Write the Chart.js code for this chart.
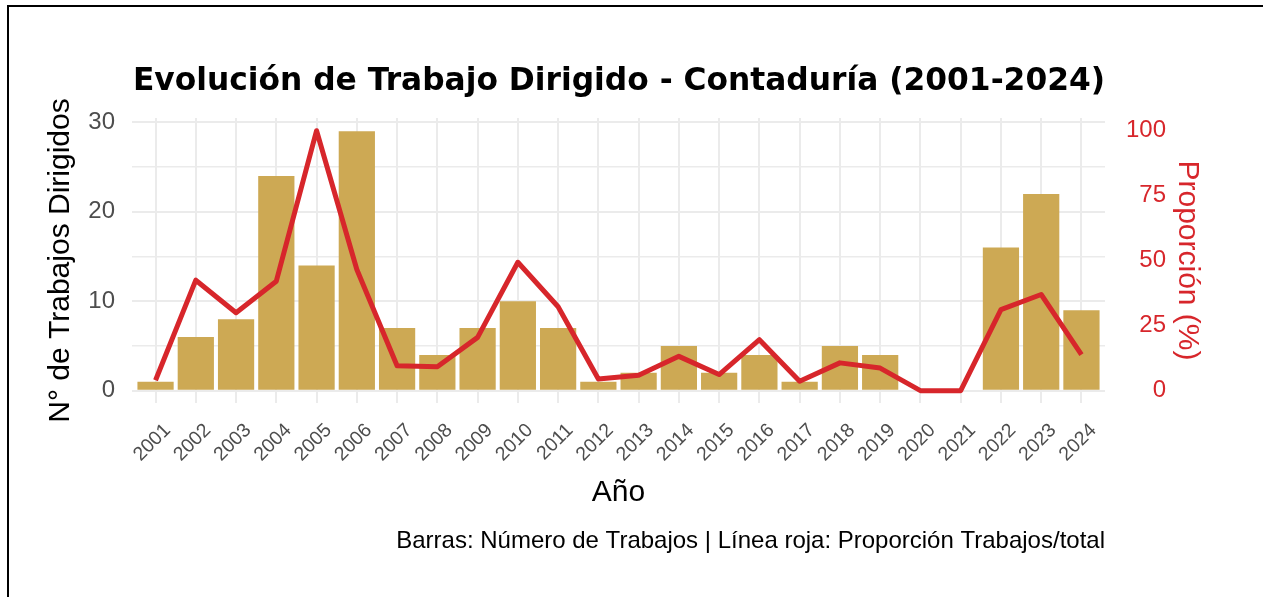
<!DOCTYPE html>
<html>
<head>
<meta charset="utf-8">
<script src="https://cdn.jsdelivr.net/npm/chart.js@4.4.1/dist/chart.umd.min.js"></script>
<style>
  html, body { margin: 0; padding: 0; background: #fff; }
  #wrap { position: relative; width: 1263px; height: 597px; overflow: hidden; }
  #chart { position: absolute; left: 0; top: 0; }
  #frame { position: absolute; left: 7px; top: 5px; width: 1300px; height: 640px;
           border-top: 2px solid #000; border-left: 2px solid #000; }
</style>
</head>
<body>
<div id="wrap">
  <canvas id="chart" width="1263" height="597"></canvas>
  <div id="frame"></div>
</div>
<script>
// datos
const years = [2001, 2002, 2003, 2004, 2005, 2006, 2007, 2008, 2009, 2010, 2011, 2012,
               2013, 2014, 2015, 2016, 2017, 2018, 2019, 2020, 2021, 2022, 2023, 2024];
const trabajos = [1, 6, 8, 24, 14, 29, 7, 4, 7, 10, 7, 1,
                  2, 5, 2, 4, 1, 5, 4, 0, 0, 16, 22, 9];
const proporcion = [4, 42.5, 30, 42.1, 100, 46.6, 9.6, 9.2, 20.5, 49.4, 32.3, 4.5,
                     5.9, 13.2, 6.2, 19.6, 3.6, 10.7, 8.7, 0, 0, 31.2, 37, 13.9];
const leftTicks = [0, 10, 20, 30];
const rightTicks = [0, 25, 50, 75, 100];

const titulo = 'Evolución de Trabajo Dirigido - Contaduría (2001-2024)';
const caption = 'Barras: Número de Trabajos | Línea roja: Proporción Trabajos/total';

const FONT = '"Liberation Sans", Arial, sans-serif';
const RED = '#D7262B';
const GOLD = '#CDA954';
const GRID = '#EBEBEB';
const TICK_GREY = '#4D4D4D';

const captionPlugin = {
    id: 'caption',
    afterDraw(chart) {
        const { ctx, chartArea } = chart;
        ctx.save();
        ctx.font = '24px ' + FONT;
        ctx.fillStyle = '#000';
        ctx.textAlign = 'right';
        ctx.textBaseline = 'middle';
        ctx.fillText(caption, chartArea.right, 541);
        ctx.restore();
    }
};

const ctx = document.getElementById('chart').getContext('2d');
new Chart(ctx, {
    data: {
        labels: years,
        datasets: [
            {
                type: 'line',
                label: 'Proporción',
                data: proporcion,
                yAxisID: 'y2',
                borderColor: RED,
                borderWidth: 5,
                borderJoinStyle: 'round',
                borderCapStyle: 'butt',
                pointRadius: 0,
                tension: 0,
                fill: false,
                order: 0,
            },
            {
                type: 'bar',
                label: 'Trabajos',
                data: trabajos,
                yAxisID: 'y',
                backgroundColor: GOLD,
                borderWidth: 0,
                barPercentage: 0.9,
                categoryPercentage: 1,
                order: 1,
            }
        ]
    },
    options: {
        responsive: false,
        animation: false,
        layout: { padding: { left: 0, right: 25, top: 0, bottom: 74 } },
        plugins: {
            legend: { display: false },
            tooltip: { enabled: false },
            title: {
                display: true,
                text: titulo,
                color: '#000',
                font: { family: '"DejaVu Sans", sans-serif', size: 31.3, weight: 'bold' },
                padding: { top: 63.2, bottom: 17.2 },
            }
        },
        scales: {
            x: {
                type: 'linear',
                position: 'bottom',
                offset: false,
                min: 2000.415,
                max: 2024.585,
                afterFit: (scale) => { scale.height = 120; },
                grid: { color: GRID, lineWidth: 2, drawTicks: false, offset: false },
                border: { display: false },
                ticks: {
                    stepSize: 1,
                    includeBounds: false,
                    autoSkip: false,
                    minRotation: 45,
                    maxRotation: 45,
                    padding: 16,
                    labelOffset: 12,
                    color: TICK_GREY,
                    font: { family: FONT, size: 19.5 },
                    callback: (v) => years.includes(v) ? String(v) : '',
                },
                title: {
                    display: true,
                    text: 'Año',
                    color: '#000',
                    font: { family: FONT, size: 30 },
                    padding: { top: 0, bottom: 12 },
                }
            },
            y: {
                type: 'linear',
                position: 'left',
                min: -1.375,
                max: 30.49,
                afterFit: (scale) => { scale.width = 132; },
                grid: {
                    color: GRID,
                    drawTicks: false,
                    lineWidth: (c) => (c.tick && leftTicks.includes(c.tick.value)) ? 2 : 1.4,
                },
                border: { display: false },
                ticks: {
                    stepSize: 5,
                    includeBounds: false,
                    padding: 17,
                    color: TICK_GREY,
                    font: { family: FONT, size: 24 },
                    callback: (v) => leftTicks.includes(v) ? String(v) : '',
                },
                title: {
                    display: true,
                    text: 'N° de Trabajos Dirigidos',
                    color: '#000',
                    font: { family: FONT, size: 30 },
                    padding: { top: 43, bottom: 0 },
                }
            },
            y2: {
                type: 'linear',
                position: 'right',
                weight: 0,
                min: -4.74,
                max: 104.9,
                afterFit: (scale) => { scale.width = 61; },
                grid: { display: false, drawTicks: false },
                border: { display: false },
                ticks: {
                    stepSize: 25,
                    includeBounds: false,
                    padding: 17,
                    crossAlign: 'far',
                    color: RED,
                    font: { family: FONT, size: 24 },
                    callback: (v) => rightTicks.includes(v) ? String(v) : '',
                }
            },
            y3: {
                type: 'linear',
                position: 'right',
                weight: 1,
                min: 0,
                max: 1,
                afterFit: (scale) => { scale.width = 72; },
                grid: { display: false, drawTicks: false },
                border: { display: false },
                ticks: { display: false },
                title: {
                    display: true,
                    text: 'Proporción (%)',
                    color: RED,
                    font: { family: FONT, size: 30 },
                    padding: { top: 32.6, bottom: 0 },
                }
            }
        }
    },
    plugins: [captionPlugin]
});
</script>
</body>
</html>
